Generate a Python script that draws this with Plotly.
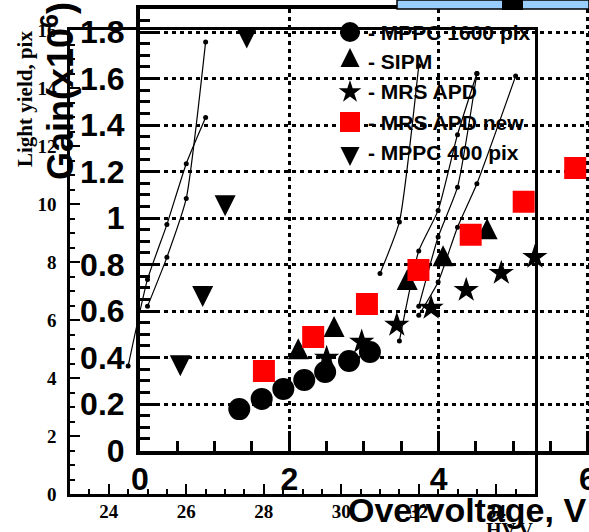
import plotly.graph_objects as go

W, H = 589, 532

# ---------------- Light yield vs HV (thin curves, inner frame) ----------------
hv_a = [24.5, 25.0, 25.5, 26.0, 26.5]
ly_a = [4.41, 7.40, 9.29, 11.39, 12.98]
hv_b = [25.0, 25.5, 26.0, 26.5]
ly_b = [6.47, 8.16, 10.19, 15.59]
hv_c = [31.0, 31.5, 32.0]
ly_c = [7.60, 9.38, 14.77]
hv_d = [31.5, 32.0, 32.5, 33.0, 33.5]
ly_d = [5.28, 8.38, 9.78, 12.39, 14.50]
hv_e = [32.0, 32.5, 33.0, 33.5]
ly_e = [6.47, 8.86, 10.58, 14.50]
hv_f = [32.0, 32.5, 33.0, 33.5, 34.5]
ly_f = [6.16, 7.31, 9.20, 10.70, 14.41]

# ---------------- Gain vs overvoltage (big markers, outer frame) ----------------
ov_mppc1600 = [1.33, 1.63, 1.92, 2.20, 2.48, 2.80, 3.08]
g_mppc1600 = [0.178, 0.222, 0.265, 0.303, 0.338, 0.385, 0.424]
ov_sipm = [2.12, 2.60, 3.58, 4.06, 4.65]
g_sipm = [0.423, 0.518, 0.720, 0.823, 0.939]
ov_mrs = [2.50, 2.97, 3.44, 3.90, 4.37, 4.84, 5.29]
g_mrs = [0.398, 0.467, 0.540, 0.613, 0.690, 0.763, 0.832]
ov_mrs_new = [1.66, 2.32, 3.04, 3.73, 4.43, 5.14, 5.83]
g_mrs_new = [0.342, 0.488, 0.630, 0.776, 0.928, 1.070, 1.215]
ov_mppc400 = [0.54, 0.84, 1.14, 1.43]
g_mppc400 = [0.380, 0.677, 1.068, 1.789]

legend_labels = ["- MPPC 1600 pix", "- SIPM", "- MRS APD", "- MRS APD new", "- MPPC 400 pix"]

inner_x_ticks = [24, 26, 28, 30, 32, 34]
inner_y_ticks = [0, 2, 4, 6, 8, 10, 12, 14, 16]
outer_x_ticks = [0, 2, 4, 6]
outer_y_ticks = [0, 0.2, 0.4, 0.6, 0.8, 1, 1.2, 1.4, 1.6, 1.8]


def fx(px):
    return px / W


def fy(py):
    return 1 - py / H


UP = dict(symbol="arrow-down", angle=180, size=21, standoff=14)
DOWN = dict(symbol="arrow-down", angle=0, size=21, standoff=14)
series = [
    (ov_mppc1600, g_mppc1600, dict(symbol="circle", size=22, color="black")),
    (ov_sipm, g_sipm, dict(color="black", **UP)),
    (ov_mrs, g_mrs, dict(symbol="star", size=19, color="black")),
    (ov_mrs_new, g_mrs_new, dict(symbol="square", size=22, color="#ff0000")),
    (ov_mppc400, g_mppc400, dict(color="black", **DOWN)),
]

fig = go.Figure()

for hv, ly in [(hv_a, ly_a), (hv_b, ly_b), (hv_c, ly_c), (hv_d, ly_d), (hv_e, ly_e), (hv_f, ly_f)]:
    fig.add_trace(go.Scatter(
        x=hv, y=ly, mode="lines+markers", xaxis="x", yaxis="y",
        line=dict(color="black", width=1.2, shape="spline", smoothing=0.5),
        marker=dict(color="black", size=5), showlegend=False, hoverinfo="skip"))

for xs, ys, mk in series:
    fig.add_trace(go.Scatter(
        x=xs, y=ys, mode="markers", xaxis="x2", yaxis="y2",
        marker=dict(line=dict(width=0), **mk), showlegend=False))

legend_x = [350] * 5
legend_y = [32, 62, 92, 122, 152]
for i, (xs, ys, mk) in enumerate(series):
    fig.add_trace(go.Scatter(
        x=[legend_x[i]], y=[legend_y[i]], mode="markers", xaxis="x3", yaxis="y3",
        marker=dict(line=dict(width=0), **{**mk, "size": mk["size"] - 2}),
        showlegend=False, hoverinfo="skip"))

inner_font = dict(family="Liberation Serif", size=19, color="black", weight="bold")
outer_font = dict(family="Liberation Sans", size=32, color="black", weight="bold")

fig.update_layout(
    width=W, height=H, autosize=False,
    margin=dict(l=0, r=0, t=0, b=0, pad=0, autoexpand=False),
    paper_bgcolor="white", plot_bgcolor="rgba(0,0,0,0)", showlegend=False,
    xaxis=dict(domain=[fx(70), fx(535)], range=[23, 35], anchor="y", automargin=False,
               tickmode="array", tickvals=inner_x_ticks, ticks="inside", ticklen=10, tickwidth=2,
               tickcolor="black", minor=dict(dtick=0.5, tick0=0, ticks="inside", ticklen=5,
                                             tickwidth=2, tickcolor="black"),
               showline=True, linewidth=2.5, linecolor="black", mirror=True,
               showgrid=False, zeroline=False, tickfont=inner_font, ticklabelstandoff=-2,
               ticklabeloverflow="allow"),
    yaxis=dict(domain=[fy(494), fy(30)], range=[0, 16], anchor="x", automargin=False,
               tickmode="array", tickvals=inner_y_ticks, ticks="inside", ticklen=10, tickwidth=2,
               tickcolor="black", minor=dict(dtick=0.5, tick0=0, ticks="inside", ticklen=5,
                                             tickwidth=2, tickcolor="black"),
               showline=True, linewidth=2.5, linecolor="black", mirror=True,
               showgrid=False, zeroline=False, tickfont=inner_font, ticklabelstandoff=7,
               ticklabeloverflow="allow"),
    xaxis2=dict(domain=[fx(140), 1], range=[0, 449 / 74.65], anchor="y2", automargin=False,
                tickmode="array", tickvals=outer_x_ticks, ticks="inside", ticklen=20, tickwidth=3,
                tickcolor="black", minor=dict(dtick=0.5, tick0=0, ticks="inside", ticklen=10,
                                              tickwidth=3, tickcolor="black"),
                showline=True, linewidth=3.5, linecolor="black", mirror=True,
                showgrid=True, gridcolor="black", gridwidth=3, griddash="4px,4px",
                zeroline=False, tickfont=outer_font, ticklabelstandoff=-3,
                ticklabeloverflow="allow"),
    yaxis2=dict(domain=[fy(450.5), fy(9)], range=[0, (450.5 - 9) / 232.5], anchor="x2",
                automargin=False,
                tickmode="array", tickvals=outer_y_ticks, ticks="inside", ticklen=20, tickwidth=3,
                tickcolor="black", minor=dict(dtick=0.05, tick0=0, ticks="inside", ticklen=10,
                                              tickwidth=3, tickcolor="black"),
                showline=True, linewidth=4, linecolor="black",
                showgrid=True, gridcolor="black", gridwidth=3, griddash="4px,4px",
                zeroline=False, tickfont=outer_font, ticklabelstandoff=5,
                ticklabeloverflow="allow"),
    xaxis3=dict(domain=[0, 1], range=[0, W], anchor="y3", visible=False, fixedrange=True),
    yaxis3=dict(domain=[0, 1], range=[H, 0], anchor="x3", visible=False, fixedrange=True),
)

anns = []
for i, lab in enumerate(legend_labels):
    anns.append(dict(x=fx(366), y=fy(legend_y[i]), xref="paper", yref="paper", text=lab,
                     showarrow=False, xanchor="left", yanchor="middle",
                     font=dict(family="Liberation Sans", size=21, color="black", weight="bold")))

anns += [
    dict(x=fx(25), y=fy(99), xref="paper", yref="paper", text="Light yield, pix",
         textangle=-90, showarrow=False, xanchor="center", yanchor="middle",
         font=dict(family="Liberation Serif", size=21, color="black", weight="bold")),
    dict(x=fx(58), y=fy(91), xref="paper", yref="paper", text="Gain(x10<sup>6</sup>)",
         textangle=-90, showarrow=False, xanchor="center", yanchor="middle",
         font=dict(family="Liberation Sans", size=36, color="black", weight="bold")),
    dict(x=fx(509), y=fy(530), xref="paper", yref="paper", text="HV,V",
         showarrow=False, xanchor="center", yanchor="middle",
         font=dict(family="Liberation Serif", size=20, color="black", weight="bold")),
    dict(x=fx(346), y=fy(510), xref="paper", yref="paper", text="Overvoltage, V",
         showarrow=False, xanchor="left", yanchor="middle",
         font=dict(family="Liberation Sans", size=34, color="black", weight="bold")),
]
fig.update_layout(annotations=anns)

fig.update_layout(shapes=[
    dict(type="rect", xref="paper", yref="paper", x0=fx(397), x1=1.0, y0=fy(9), y1=1.0,
         fillcolor="#99ccff", line=dict(color="black", width=1.5), layer="above"),
    dict(type="rect", xref="paper", yref="paper", x0=fx(502), x1=fx(523), y0=fy(10), y1=1.0,
         fillcolor="black", line=dict(width=0), layer="above"),
])

fig.write_html("out.html")
